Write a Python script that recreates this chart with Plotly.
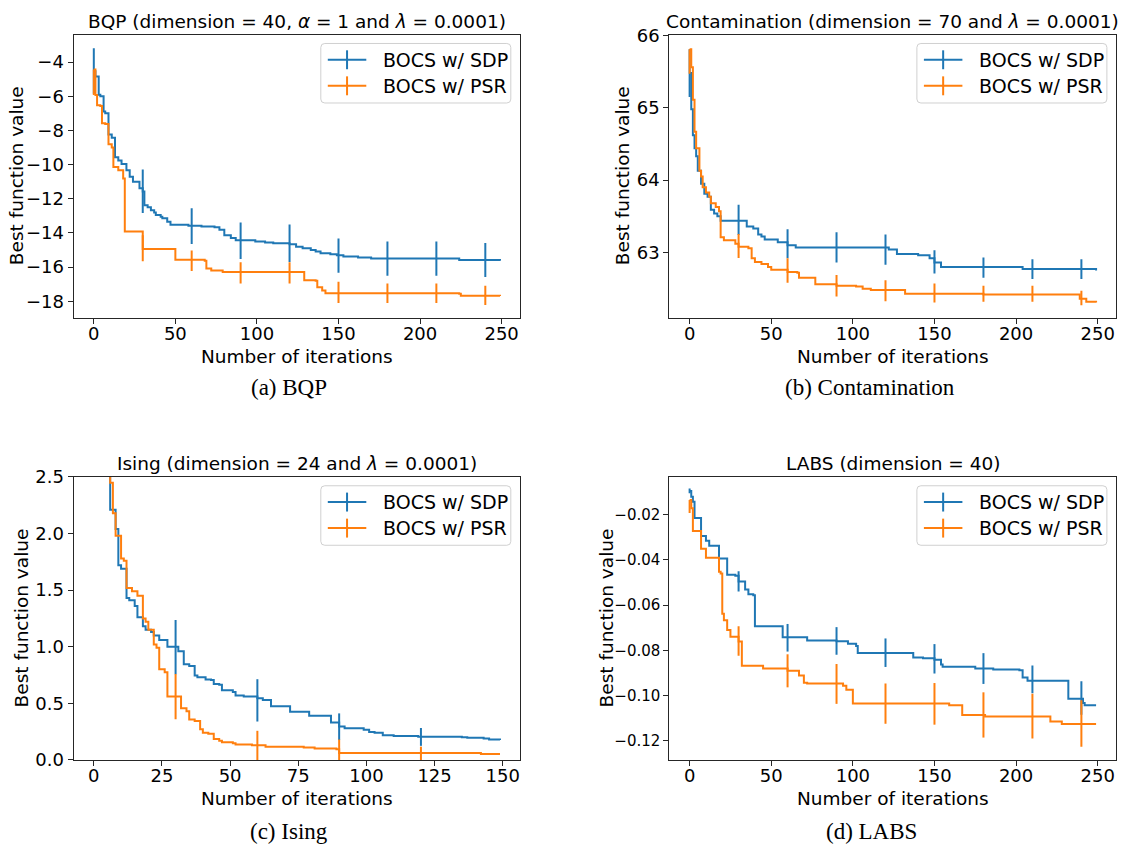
import plotly.graph_objects as go

W, H = 1122, 857
BLUE = "#1f77b4"
ORANGE = "#ff7f0e"
SANS = "DejaVu Sans"
SERIF = "Liberation Serif"
AXC = "#262626"

# ---------------- data ----------------
err_iter_250 = [0, 30, 60, 90, 120, 150, 180, 210, 240]
err_iter_150 = [0, 30, 60, 90, 120]

# (a) BQP
bqp_sdp_iter = [0, 1, 3, 4, 6, 7, 9, 11, 13, 15, 17, 20, 22, 24, 28, 30, 31, 33, 35, 37,
                38, 41, 42, 45, 47, 58, 66, 74, 77, 80, 84, 87, 99, 105, 110, 120, 124, 128, 133, 136,
                139, 145, 149, 153, 162, 170, 224, 249]
bqp_sdp_val = [-4.54, -4.85, -5.92, -6.0, -6.9, -7.0, -8.24, -8.43, -9.57, -9.76,
               -9.96, -10.33, -10.71, -11.0, -11.38, -11.57, -12.38, -12.5, -12.67, -12.8,
               -12.95, -13.05, -13.14, -13.35, -13.52, -13.58, -13.62, -13.66, -13.81, -14.13,
               -14.3, -14.42, -14.5, -14.55, -14.6, -14.66, -14.8, -14.9, -14.99, -15.08,
               -15.18, -15.25, -15.31, -15.37, -15.43, -15.5, -15.58, -15.62]
bqp_psr_iter = [0, 1, 2, 4, 5, 7, 9, 11, 12, 15, 18, 19, 30, 49, 50, 68, 69, 72, 79, 129,
                136, 137, 140, 142, 224, 225, 249]
bqp_psr_val = [-4.44, -5.93, -6.53, -6.57, -7.58, -7.63, -8.81, -9.0, -10.14, -10.33,
               -10.81, -13.91, -14.94, -14.94, -15.56, -15.62, -16.08, -16.19, -16.28, -16.76,
               -16.8, -17.17, -17.37, -17.52, -17.55, -17.67, -17.69]
bqp_sdp_err_mean = [-4.53, -11.56, -13.6, -14.45, -14.6, -15.32, -15.5, -15.5, -15.58]
bqp_sdp_err = [1.33, 1.27, 1.05, 1.07, 1.1, 1.0, 1.0, 1.0, 0.99]
bqp_psr_err_mean = [-5.18, -14.89, -15.62, -16.33, -16.33, -17.47, -17.52, -17.52, -17.65]
bqp_psr_err = [0.75, 0.76, 0.6, 0.62, 0.62, 0.62, 0.57, 0.57, 0.57]

# (b) Contamination
con_sdp_iter = [0, 1, 2, 3, 4, 5, 7, 9, 11, 13, 15, 17, 19, 35, 39, 42, 44, 46, 54, 60,
                65, 122, 127, 140, 147, 150, 154, 204, 249]
con_sdp_val = [65.48, 64.98, 64.62, 64.44, 64.33, 64.13, 63.95, 63.81, 63.77, 63.59,
               63.54, 63.50, 63.44, 63.36, 63.33, 63.25, 63.22, 63.18, 63.14, 63.10,
               63.07, 63.04, 62.98, 62.96, 62.92, 62.86, 62.80, 62.77, 62.75]
con_psr_iter = [0, 1, 2, 3, 4, 6, 7, 8, 10, 12, 13, 16, 18, 19, 21, 28, 30, 36, 38, 40,
                44, 48, 50, 60, 66, 67, 77, 90, 102, 106, 111, 132, 180, 239, 243, 249]
con_psr_val = [65.81, 65.56, 65.11, 64.67, 64.44, 64.13, 64.05, 63.90, 63.83, 63.77,
               63.68, 63.63, 63.57, 63.21, 63.17, 63.12, 63.08, 63.06, 62.92, 62.87,
               62.84, 62.80, 62.76, 62.73, 62.72, 62.65, 62.56, 62.54, 62.53, 62.50,
               62.48, 62.43, 62.42, 62.36, 62.32, 62.31]
con_sdp_err_mean = [65.48, 63.45, 63.12, 63.07, 63.04, 62.87, 62.79, 62.77, 62.77]
con_sdp_err = [0.33, 0.21, 0.2, 0.21, 0.21, 0.16, 0.14, 0.135, 0.135]
con_psr_err_mean = [65.64, 63.09, 62.75, 62.54, 62.47, 62.44, 62.43, 62.43, 62.37]
con_psr_err = [0.17, 0.165, 0.17, 0.15, 0.145, 0.13, 0.11, 0.11, 0.1]

# (c) Ising
ising_sdp_iter = [0, 3, 5, 6, 8, 9, 10, 12, 13, 15, 16, 18, 19, 21, 22, 24, 27, 31, 33, 35,
                  37, 38, 41, 43, 44, 46, 47, 51, 52, 55, 60, 62, 65, 72, 79, 87, 90, 92, 99, 101,
                  103, 106, 110, 119, 135, 137, 143, 145, 149]
ising_sdp_val = [4.2, 3.1, 2.55, 2.21, 2.04, 1.72, 1.69, 1.43, 1.41, 1.36,
                 1.26, 1.18, 1.15, 1.13, 1.10, 1.06, 1.0, 0.96, 0.845, 0.83,
                 0.745, 0.73, 0.71, 0.705, 0.67, 0.665, 0.615, 0.60, 0.57, 0.56,
                 0.545, 0.53, 0.474, 0.425, 0.39, 0.33, 0.296, 0.28, 0.267, 0.247,
                 0.24, 0.218, 0.21, 0.204, 0.2, 0.195, 0.19, 0.18, 0.175]
ising_psr_iter = [0, 3, 5, 6, 7, 8, 10, 11, 12, 14, 16, 18, 19, 20, 22, 23, 24, 26, 27, 32,
                  34, 35, 37, 39, 40, 42, 44, 46, 47, 51, 52, 58, 63, 77, 81, 89, 90, 142, 149]
ising_psr_val = [4.4, 3.3, 2.7, 2.45, 2.18, 1.98, 1.78, 1.76, 1.52, 1.49,
                 1.45, 1.25, 1.22, 1.15, 1.02, 0.99, 0.80, 0.775, 0.56, 0.457,
                 0.43, 0.357, 0.343, 0.27, 0.24, 0.23, 0.185, 0.17, 0.155, 0.146,
                 0.135, 0.13, 0.117, 0.109, 0.10, 0.095, 0.06, 0.052, 0.052]
ising_sdp_err_mean = [4.2, 0.996, 0.526, 0.293, 0.203]
ising_sdp_err = [1.0, 0.24, 0.187, 0.118, 0.079]
ising_psr_err_mean = [4.4, 0.56, 0.127, 0.07, 0.057]
ising_psr_err = [1.0, 0.2, 0.13, 0.11, 0.06]

# (d) LABS
labs_sdp_iter = [0, 1, 2, 3, 7, 10, 12, 18, 23, 28, 30, 34, 36, 39, 40, 57, 72, 90, 97, 102,
                 103, 137, 143, 150, 154, 155, 175, 186, 202, 204, 207, 232, 241, 242, 249]
labs_sdp_val = [-0.0095, -0.0121, -0.0143, -0.0215, -0.0294, -0.0315, -0.0337, -0.0394, -0.0466, -0.047,
                -0.0495, -0.0531, -0.0552, -0.0556, -0.0693, -0.0742, -0.0756, -0.0759, -0.0771, -0.078,
                -0.0811, -0.0831, -0.0834, -0.0841, -0.0862, -0.0872, -0.0880, -0.0884, -0.0888, -0.092,
                -0.0934, -0.1013, -0.1032, -0.1042, -0.1042]
labs_psr_iter = [0, 1, 2, 7, 10, 18, 19, 20, 21, 23, 25, 30, 32, 45, 60, 67, 70, 72, 94, 96,
                 100, 159, 167, 181, 221, 228, 249]
labs_psr_val = [-0.0135, -0.0172, -0.0272, -0.0351, -0.0391, -0.0452, -0.046, -0.0638, -0.0667, -0.071,
                -0.0739, -0.076, -0.0868, -0.088, -0.089, -0.0911, -0.0943, -0.0946, -0.0956, -0.0974,
                -0.1035, -0.1042, -0.1085, -0.1092, -0.1114, -0.1125, -0.1125]
labs_sdp_err_mean = [-0.0095, -0.0495, -0.0744, -0.0758, -0.081, -0.0837, -0.088, -0.0928, -0.101]
labs_sdp_err = [0.001, 0.0045, 0.0061, 0.0061, 0.0063, 0.0065, 0.0068, 0.0061, 0.0074]
labs_psr_err_mean = [-0.0164, -0.0758, -0.089, -0.0948, -0.1035, -0.1036, -0.1085, -0.109, -0.1123]
labs_psr_err = [0.0029, 0.0065, 0.0073, 0.0088, 0.0089, 0.0092, 0.01, 0.0099, 0.0103]

# tick labels
x_ticks_250 = [0, 50, 100, 150, 200, 250]
x_ticks_150 = [0, 25, 50, 75, 100, 125, 150]
bqp_y_ticks = [-18, -16, -14, -12, -10, -8, -6, -4]
bqp_y_labels = ["\u221218", "\u221216", "\u221214", "\u221212", "\u221210", "\u22128", "\u22126", "\u22124"]
con_y_ticks = [63, 64, 65, 66]
con_y_labels = ["63", "64", "65", "66"]
ising_y_ticks = [0.0, 0.5, 1.0, 1.5, 2.0, 2.5]
ising_y_labels = ["0.0", "0.5", "1.0", "1.5", "2.0", "2.5"]
labs_y_ticks = [-0.12, -0.10, -0.08, -0.06, -0.04, -0.02]
labs_y_labels = ["\u22120.12", "\u22120.10", "\u22120.08", "\u22120.06", "\u22120.04", "\u22120.02"]

titles = ["BQP (dimension = 40, <i>α</i> = 1 and <i>λ</i> = 0.0001)",
          "Contamination (dimension = 70 and <i>λ</i> = 0.0001)",
          "Ising (dimension = 24 and <i>λ</i> = 0.0001)",
          "LABS (dimension = 40)"]
captions = ["(a) BQP", "(b) Contamination", "(c) Ising", "(d) LABS"]
series_names = ["BOCS w/ SDP", "BOCS w/ PSR"]

# ---------------- layout helpers ----------------
def fx(p):
    return p / W


def fy(p):
    return 1 - p / H


LEFT_X = (73.5, 520.3)
RIGHT_X = (669.3, 1116.4)
TOP_Y = (24.3, 314.3)
BOT_Y = (477.7, 767.7)
FS_T = 18.5
FS_L = 19

panels = [
    dict(ax="", xd=LEFT_X, yd=TOP_Y, xr=[-12.45, 261.45], yr=[-18.95, -2.40],
         xt=x_ticks_250, yt=bqp_y_ticks, yl=bqp_y_labels, ytf=18,
         sdp=(bqp_sdp_iter, bqp_sdp_val), psr=(bqp_psr_iter, bqp_psr_val),
         ei=err_iter_250, se=(bqp_sdp_err_mean, bqp_sdp_err), pe=(bqp_psr_err_mean, bqp_psr_err),
         ylab_x=16, cap_x=289, cap_y=386),
    dict(ax="2", xd=RIGHT_X, yd=TOP_Y, xr=[-12.45, 261.45], yr=[62.10, 66.01],
         xt=x_ticks_250, yt=con_y_ticks, yl=con_y_labels, ytf=18,
         sdp=(con_sdp_iter, con_sdp_val), psr=(con_psr_iter, con_psr_val),
         ei=err_iter_250, se=(con_sdp_err_mean, con_sdp_err), pe=(con_psr_err_mean, con_psr_err),
         ylab_x=622, cap_x=870, cap_y=386),
    dict(ax="3", xd=LEFT_X, yd=BOT_Y, xr=[-7.45, 156.45], yr=[0, 2.5],
         xt=x_ticks_150, yt=ising_y_ticks, yl=ising_y_labels, ytf=18,
         sdp=(ising_sdp_iter, ising_sdp_val), psr=(ising_psr_iter, ising_psr_val),
         ei=err_iter_150, se=(ising_sdp_err_mean, ising_sdp_err), pe=(ising_psr_err_mean, ising_psr_err),
         ylab_x=21, cap_x=289, cap_y=841),
    dict(ax="4", xd=RIGHT_X, yd=BOT_Y, xr=[-12.45, 261.45], yr=[-0.12836, -0.00336],
         xt=x_ticks_250, yt=labs_y_ticks, yl=labs_y_labels, ytf=15,
         sdp=(labs_sdp_iter, labs_sdp_val), psr=(labs_psr_iter, labs_psr_val),
         ei=err_iter_250, se=(labs_sdp_err_mean, labs_sdp_err), pe=(labs_psr_err_mean, labs_psr_err),
         ylab_x=606, cap_x=871, cap_y=841),
]

fig = go.Figure()
layout = dict(width=W, height=H, margin=dict(l=0, r=0, t=0, b=0, pad=0),
              paper_bgcolor="white", plot_bgcolor="white", showlegend=False)
annotations = []
shapes = []

for i, p in enumerate(panels):
    xa, ya = "x" + p["ax"], "y" + p["ax"]
    for (it, val), (em, ee), col, nm in [(p["sdp"], p["se"], BLUE, series_names[0]),
                                        (p["psr"], p["pe"], ORANGE, series_names[1])]:
        fig.add_trace(go.Scatter(x=it, y=val, mode="lines", name=nm, xaxis=xa, yaxis=ya,
                                 line=dict(color=col, width=2, shape="hv"), hoverinfo="skip"))
        fig.add_trace(go.Scatter(x=p["ei"], y=em, mode="markers", name=nm, xaxis=xa, yaxis=ya,
                                 marker=dict(size=2, opacity=0, color=col),
                                 error_y=dict(type="data", array=ee, visible=True, color=col,
                                              thickness=2, width=0),
                                 hoverinfo="skip"))
    common = dict(showline=True, linecolor=AXC, linewidth=1, mirror=True, ticks="outside",
                  ticklen=5, tickwidth=1, tickcolor=AXC, showgrid=False, zeroline=False)
    layout["xaxis" + p["ax"]] = dict(common, domain=[fx(p["xd"][0]), fx(p["xd"][1])], anchor=ya,
                                     range=p["xr"], tickmode="array", tickvals=p["xt"],
                                     ticktext=[str(v) for v in p["xt"]], ticklabelstandoff=-5,
                                     tickfont=dict(family=SANS, size=18, color="black"))
    layout["yaxis" + p["ax"]] = dict(common, domain=[fy(p["yd"][1]), fy(p["yd"][0])], anchor=xa,
                                     range=p["yr"], tickmode="array", tickvals=p["yt"],
                                     ticktext=p["yl"],
                                     tickfont=dict(family=SANS, size=p["ytf"], color="black"))
    xc = (p["xd"][0] + p["xd"][1]) / 2
    yc = (p["yd"][0] + p["yd"][1]) / 2
    # title
    annotations.append(dict(text=titles[i], x=fx(xc), y=fy(p["yd"][0] - 13.5), xref="paper", yref="paper",
                            xanchor="center", yanchor="middle", showarrow=False,
                            font=dict(family=SANS, size=FS_T, color="black")))
    # axis titles
    annotations.append(dict(text="Number of iterations", x=fx(xc), y=fy(p["yd"][1] + 40), xref="paper",
                            yref="paper", xanchor="center", yanchor="middle", showarrow=False,
                            font=dict(family=SANS, size=FS_T, color="black")))
    annotations.append(dict(text="Best function value", x=fx(p["ylab_x"]), y=fy(yc), xref="paper",
                            yref="paper", xanchor="center", yanchor="middle", showarrow=False,
                            textangle=-90, font=dict(family=SANS, size=FS_T, color="black")))
    # caption
    annotations.append(dict(text=captions[i], x=fx(p["cap_x"]), y=fy(p["cap_y"]), xref="paper",
                            yref="paper", xanchor="center", yanchor="middle", showarrow=False,
                            font=dict(family=SERIF, size=23, color="black")))
    # legend (matplotlib style box)
    bx0 = p["xd"][1] - 9.5 - 190
    bx1 = p["xd"][1] - 9.5
    by0 = p["yd"][0] + 9
    by1 = by0 + 61
    r = 4
    X0, X1, Y0, Y1 = fx(bx0), fx(bx1), fy(by0), fy(by1)
    rx, ry = r / W, r / H
    path = (f"M {X0+rx},{Y0} L {X1-rx},{Y0} Q {X1},{Y0} {X1},{Y0-ry} L {X1},{Y1+ry} "
            f"Q {X1},{Y1} {X1-rx},{Y1} L {X0+rx},{Y1} Q {X0},{Y1} {X0},{Y1+ry} "
            f"L {X0},{Y0-ry} Q {X0},{Y0} {X0+rx},{Y0} Z")
    shapes.append(dict(type="path", path=path, xref="paper", yref="paper", layer="above",
                       line=dict(color="#d0d0d0", width=1), fillcolor="rgba(255,255,255,0.8)"))
    for k, (nm, col) in enumerate(zip(series_names, [BLUE, ORANGE])):
        ey = by0 + 16.7 + k * 26.7
        hx0, hx1 = bx0 + 7, bx0 + 45.5
        hm = (hx0 + hx1) / 2
        shapes.append(dict(type="line", xref="paper", yref="paper", layer="above",
                           x0=fx(hx0), x1=fx(hx1), y0=fy(ey), y1=fy(ey), line=dict(color=col, width=2)))
        shapes.append(dict(type="line", xref="paper", yref="paper", layer="above",
                           x0=fx(hm), x1=fx(hm), y0=fy(ey - 9.7), y1=fy(ey + 9.7),
                           line=dict(color=col, width=2)))
        annotations.append(dict(text=nm, x=fx(bx0 + 60), y=fy(ey), xref="paper", yref="paper",
                                xanchor="left", yanchor="middle", showarrow=False,
                                font=dict(family=SANS, size=FS_L, color="black")))

layout["annotations"] = annotations
layout["shapes"] = shapes
fig.update_layout(**layout)

post = ("var gd=document.getElementById('{plot_id}');"
        "document.documentElement.style.margin='0';document.documentElement.style.padding='0';"
        "document.body.style.margin='0';document.body.style.padding='0';"
        "document.documentElement.style.overflow='hidden';document.body.style.overflow='hidden';"
        "if(gd){gd.style.position='absolute';gd.style.left='0px';gd.style.top='0px';}")
fig.write_html("out.html", config={"displayModeBar": False, "responsive": False}, post_script=post)
